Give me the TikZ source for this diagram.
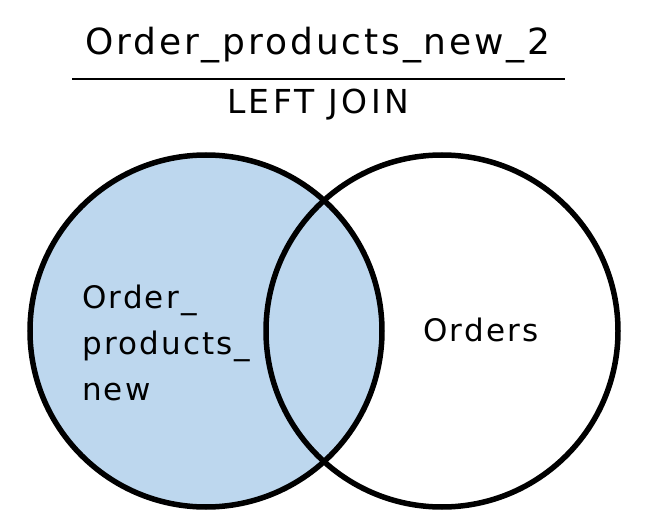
\documentclass[tikz,border=0pt]{standalone}
\usepackage{fontspec}
\setmainfont{DejaVu Sans}
\usepackage{xcolor}
\usepackage{tikz}
\usetikzlibrary{positioning}
\definecolor{leftfill}{RGB}{189, 215, 238}

\begin{document}
\begin{tikzpicture}[
    x=1pt, y=-1pt,
    setcircle/.style={circle, draw=black, line width=5.5pt, minimum size=352pt, inner sep=0pt},
    title/.style={font=\fontsize{36}{40}\selectfont\addfontfeature{LetterSpace=8}, inner sep=0pt},
    subtitle/.style={font=\fontsize{33}{36}\selectfont\addfontfeature{LetterSpace=10}, inner sep=0pt},
    setlabel/.style={font=\fontsize{31}{46}\selectfont\addfontfeature{LetterSpace=7}, align=left, inner sep=0pt}
]
    \useasboundingbox (0,0) rectangle (646,532);
    % filled left set first, outlines on top
    \fill[leftfill] (206,331) circle[radius=176];
    \node (left) [setcircle] at (206,331) {};
    \node (right) [setcircle] at (442,331) {};

    \node (name) [title] at (318,45) {Order\_products\_new\_2};
    \coordinate (rulel) at (72,79);
    \coordinate (ruler) at (565,79);
    \draw [line width=2pt] (rulel) -- (ruler);
    \node (join) [subtitle] at (318,105) {LEFT JOIN};

    \node (lname) [setlabel, anchor=west] at (82,343) {Order\_\\products\_\\new};
    \node (rname) [setlabel] at (481,330) {Orders};
\end{tikzpicture}
\end{document}
